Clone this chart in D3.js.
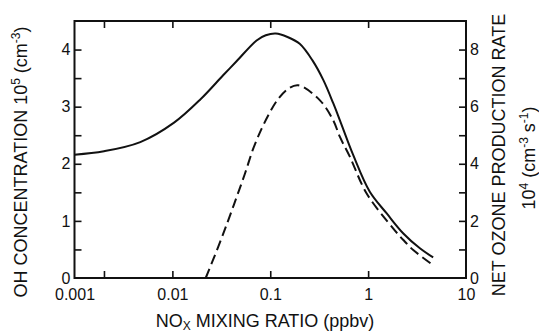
<!DOCTYPE html>
<html lang="en">
<head>
    <meta charset="UTF-8">
    <title>OH and ozone production vs NOx</title>
    <script src="https://d3js.org/d3.v7.min.js"></script>
    <style>
        body { margin: 0; background: #fff; }
        text { font-family: "Liberation Sans", Arial, Helvetica, sans-serif; fill: #111; }
        .tick line { stroke: #111; stroke-width: 1.6; }
        .tick text { font-size: 16px; }
        .title { font-size: 18px; }
    </style>
</head>
<body>
<div id="chart"></div>
<script>

    // NOx mixing ratio (ppbv) and OH concentration (10^5 cm-3) - solid curve
    var ohNox = [0.001, 0.002, 0.0047, 0.0104, 0.0194, 0.033, 0.045, 0.0725, 0.09, 0.114, 0.15, 0.2, 0.27, 0.35, 0.44, 0.515, 0.705, 1.04, 1.55, 2.29, 3.38, 4.62];
    var ohValues = [2.16, 2.22, 2.38, 2.72, 3.13, 3.55, 3.79, 4.16, 4.25, 4.28, 4.22, 4.10, 3.81, 3.46, 3.06, 2.76, 2.15, 1.51, 1.13, 0.78, 0.52, 0.36];

    // net ozone production rate (10^4 cm-3 s-1) - dashed curve
    var o3Nox = [0.0219, 0.0294, 0.0373, 0.0454, 0.0552, 0.067, 0.0817, 0.0994, 0.121, 0.153, 0.193, 0.322, 0.44, 0.515, 0.652, 0.966, 1.8, 2.29, 2.89, 4.62];
    var o3Values = [0, 1.09, 2.03, 2.84, 3.66, 4.53, 5.23, 5.81, 6.28, 6.63, 6.75, 6.22, 5.52, 4.94, 4.24, 2.96, 1.74, 1.33, 0.98, 0.45];

    // ticks
    var xLabelTicks = [0.001, 0.01, 0.1, 1, 10];
    var xLabelText = ["0.001", "0.01", "0.1", "1", "10"];
    var xMarkTicks = [0.002, 0.01, 0.1, 1];
    var leftMajor = [0, 1, 2, 3, 4];
    var leftMinor = [0.5, 1.5, 2.5, 3.5];
    var rightMajor = [0, 2, 4, 6, 8];
    var rightMinor = [1, 3, 5, 7];

    var width = 539, height = 333;
    var margin = { top: 21, right: 73, bottom: 55, left: 74.5 };
    var w = width - margin.left - margin.right;
    var h = height - margin.top - margin.bottom;

    var svg = d3.select("#chart").append("svg")
        .attr("width", width)
        .attr("height", height);

    var g = svg.append("g")
        .attr("transform", "translate(" + margin.left + "," + margin.top + ")");

    var x = d3.scaleLog().domain([0.001, 10]).range([0, w]);
    var yL = d3.scaleLinear().domain([0, 4.5]).range([h, 0]);
    var yR = d3.scaleLinear().domain([0, 9]).range([h, 0]);

    var tk = 7;

    // bottom axis: inward ticks + labels
    g.append("g")
        .attr("transform", "translate(0," + h + ")")
        .call(d3.axisBottom(x).tickValues(xMarkTicks).tickSize(-tk).tickFormat(""))
        .call(function (s) { s.select(".domain").remove(); });
    g.append("g")
        .attr("transform", "translate(0," + h + ")")
        .call(d3.axisBottom(x).tickValues(xLabelTicks).tickSize(0).tickPadding(11)
            .tickFormat(function (d, i) { return xLabelText[i]; }))
        .call(function (s) { s.select(".domain").remove(); });

    // top axis: ticks only
    g.append("g")
        .call(d3.axisTop(x).tickValues(xMarkTicks).tickSize(-tk).tickFormat(""))
        .call(function (s) { s.select(".domain").remove(); });

    // left axis
    g.append("g")
        .call(d3.axisLeft(yL).tickValues(leftMajor).tickSize(-tk).tickPadding(4).tickFormat(d3.format("d")))
        .call(function (s) { s.select(".domain").remove(); s.selectAll(".tick").filter(function (d) { return d === 0; }).select("line").remove(); });
    g.append("g")
        .call(d3.axisLeft(yL).tickValues(leftMinor).tickSize(-tk).tickFormat(""))
        .call(function (s) { s.select(".domain").remove(); });

    // right axis
    g.append("g")
        .attr("transform", "translate(" + w + ",0)")
        .call(d3.axisRight(yR).tickValues(rightMajor).tickSize(-tk).tickPadding(4).tickFormat(d3.format("d")))
        .call(function (s) { s.select(".domain").remove(); s.selectAll(".tick").filter(function (d) { return d === 0; }).select("line").remove(); });
    g.append("g")
        .attr("transform", "translate(" + w + ",0)")
        .call(d3.axisRight(yR).tickValues(rightMinor).tickSize(-tk).tickFormat(""))
        .call(function (s) { s.select(".domain").remove(); });

    // frame
    g.append("rect")
        .attr("width", w)
        .attr("height", h)
        .attr("fill", "none")
        .attr("stroke", "#111")
        .attr("stroke-width", 2);

    // curves
    var ohLine = d3.line()
        .x(function (d, i) { return x(ohNox[i]); })
        .y(function (d) { return yL(d); })
        .curve(d3.curveCatmullRom.alpha(0.5));

    var o3Line = d3.line()
        .x(function (d, i) { return x(o3Nox[i]); })
        .y(function (d) { return yR(d); })
        .curve(d3.curveCatmullRom.alpha(0.5));

    g.append("path")
        .attr("d", ohLine(ohValues))
        .attr("fill", "none")
        .attr("stroke", "#111")
        .attr("stroke-width", 2);

    g.append("path")
        .attr("d", o3Line(o3Values))
        .attr("fill", "none")
        .attr("stroke", "#111")
        .attr("stroke-width", 2)
        .attr("stroke-dasharray", "10,5");

    // axis titles
    var xt = svg.append("text")
        .attr("class", "title")
        .attr("x", 265)
        .attr("y", 327)
        .attr("text-anchor", "middle");
    xt.append("tspan").text("NO");
    xt.append("tspan").attr("dy", 3).attr("font-size", "12px").text("X");
    xt.append("tspan").attr("dy", -3).text(" MIXING RATIO (ppbv)");

    var lt = svg.append("text")
        .attr("class", "title")
        .attr("transform", "translate(27,162) rotate(-90)")
        .attr("text-anchor", "middle");
    lt.append("tspan").text("OH CONCENTRATION 10");
    lt.append("tspan").attr("dy", -7).attr("font-size", "12px").text("5");
    lt.append("tspan").attr("dy", 7).text(" (cm");
    lt.append("tspan").attr("dy", -7).attr("font-size", "12px").text("-3");
    lt.append("tspan").attr("dy", 7).text(")");

    svg.append("text")
        .attr("class", "title")
        .attr("transform", "translate(505,155) rotate(-90)")
        .attr("text-anchor", "middle")
        .text("NET OZONE PRODUCTION RATE");

    var rt = svg.append("text")
        .attr("class", "title")
        .attr("transform", "translate(535,158) rotate(-90)")
        .attr("text-anchor", "middle");
    rt.append("tspan").text("10");
    rt.append("tspan").attr("dy", -7).attr("font-size", "12px").text("4");
    rt.append("tspan").attr("dy", 7).text(" (cm");
    rt.append("tspan").attr("dy", -7).attr("font-size", "12px").text("-3");
    rt.append("tspan").attr("dy", 7).text(" s");
    rt.append("tspan").attr("dy", -7).attr("font-size", "12px").text("-1");
    rt.append("tspan").attr("dy", 7).text(")");

</script>
</body>
</html>
